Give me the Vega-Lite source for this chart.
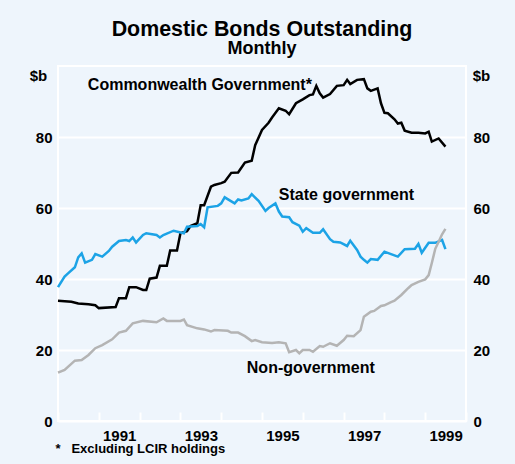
{
  "$schema": "https://vega.github.io/schema/vega-lite/v6.json",
  "width": 408,
  "height": 355,
  "autosize": {"type": "none"},
  "padding": {"left": 58, "top": 66, "right": 49, "bottom": 43},
  "background": "#eef5fc",
  "title": {
    "text": "Domestic Bonds Outstanding",
    "subtitle": "Monthly",
    "font": "Liberation Sans",
    "subtitleFont": "Liberation Sans",
    "fontSize": 21.4,
    "subtitleFontSize": 18,
    "fontWeight": "bold",
    "subtitleFontWeight": "bold",
    "color": "black",
    "subtitleColor": "black",
    "anchor": "middle",
    "offset": 8,
    "subtitlePadding": 0
  },
  "config": {
    "view": {"fill": "#eef5fc", "stroke": "white", "strokeWidth": 2},
    "font": "Liberation Sans",
    "axis": {
      "labelFont": "Liberation Sans",
      "titleFont": "Liberation Sans",
      "labelFontWeight": "bold",
      "titleFontWeight": "bold",
      "labelColor": "black",
      "titleColor": "black",
      "labelFontSize": 15,
      "titleFontSize": 15
    }
  },
  "data": {
    "values": [
      {"date": "1990-01-01", "series": "Commonwealth Government", "value": 33.9},
      {"date": "1990-05-01", "series": "Commonwealth Government", "value": 33.6},
      {"date": "1990-07-01", "series": "Commonwealth Government", "value": 33.1},
      {"date": "1990-10-01", "series": "Commonwealth Government", "value": 32.9},
      {"date": "1990-12-01", "series": "Commonwealth Government", "value": 32.6},
      {"date": "1991-01-01", "series": "Commonwealth Government", "value": 31.8},
      {"date": "1991-06-01", "series": "Commonwealth Government", "value": 32.1},
      {"date": "1991-07-01", "series": "Commonwealth Government", "value": 34.6},
      {"date": "1991-09-01", "series": "Commonwealth Government", "value": 34.6},
      {"date": "1991-10-01", "series": "Commonwealth Government", "value": 37.7},
      {"date": "1991-12-01", "series": "Commonwealth Government", "value": 37.7},
      {"date": "1992-02-01", "series": "Commonwealth Government", "value": 36.9},
      {"date": "1992-03-01", "series": "Commonwealth Government", "value": 36.9},
      {"date": "1992-04-01", "series": "Commonwealth Government", "value": 40.1},
      {"date": "1992-06-01", "series": "Commonwealth Government", "value": 40.4},
      {"date": "1992-07-01", "series": "Commonwealth Government", "value": 43.7},
      {"date": "1992-09-01", "series": "Commonwealth Government", "value": 43.7},
      {"date": "1992-10-01", "series": "Commonwealth Government", "value": 48.0},
      {"date": "1992-12-01", "series": "Commonwealth Government", "value": 48.0},
      {"date": "1993-01-01", "series": "Commonwealth Government", "value": 52.9},
      {"date": "1993-03-01", "series": "Commonwealth Government", "value": 53.5},
      {"date": "1993-04-01", "series": "Commonwealth Government", "value": 54.9},
      {"date": "1993-06-01", "series": "Commonwealth Government", "value": 55.7},
      {"date": "1993-07-01", "series": "Commonwealth Government", "value": 60.8},
      {"date": "1993-08-01", "series": "Commonwealth Government", "value": 60.8},
      {"date": "1993-10-01", "series": "Commonwealth Government", "value": 66.0},
      {"date": "1993-11-01", "series": "Commonwealth Government", "value": 66.5},
      {"date": "1994-01-01", "series": "Commonwealth Government", "value": 67.0},
      {"date": "1994-02-01", "series": "Commonwealth Government", "value": 67.4},
      {"date": "1994-04-01", "series": "Commonwealth Government", "value": 69.9},
      {"date": "1994-06-01", "series": "Commonwealth Government", "value": 70.0},
      {"date": "1994-08-01", "series": "Commonwealth Government", "value": 72.8},
      {"date": "1994-10-01", "series": "Commonwealth Government", "value": 73.3},
      {"date": "1994-11-01", "series": "Commonwealth Government", "value": 77.7},
      {"date": "1995-01-01", "series": "Commonwealth Government", "value": 82.0},
      {"date": "1995-03-01", "series": "Commonwealth Government", "value": 84.0},
      {"date": "1995-04-01", "series": "Commonwealth Government", "value": 85.5},
      {"date": "1995-06-01", "series": "Commonwealth Government", "value": 88.1},
      {"date": "1995-08-01", "series": "Commonwealth Government", "value": 87.4},
      {"date": "1995-09-01", "series": "Commonwealth Government", "value": 86.4},
      {"date": "1995-11-01", "series": "Commonwealth Government", "value": 89.5},
      {"date": "1996-01-01", "series": "Commonwealth Government", "value": 90.6},
      {"date": "1996-03-01", "series": "Commonwealth Government", "value": 91.8},
      {"date": "1996-04-01", "series": "Commonwealth Government", "value": 92.0},
      {"date": "1996-05-01", "series": "Commonwealth Government", "value": 94.4},
      {"date": "1996-06-01", "series": "Commonwealth Government", "value": 92.3},
      {"date": "1996-07-01", "series": "Commonwealth Government", "value": 91.1},
      {"date": "1996-09-01", "series": "Commonwealth Government", "value": 92.1},
      {"date": "1996-11-01", "series": "Commonwealth Government", "value": 94.4},
      {"date": "1997-01-01", "series": "Commonwealth Government", "value": 94.6},
      {"date": "1997-02-01", "series": "Commonwealth Government", "value": 96.1},
      {"date": "1997-03-01", "series": "Commonwealth Government", "value": 94.9},
      {"date": "1997-05-01", "series": "Commonwealth Government", "value": 96.1},
      {"date": "1997-07-01", "series": "Commonwealth Government", "value": 96.3},
      {"date": "1997-08-01", "series": "Commonwealth Government", "value": 93.7},
      {"date": "1997-09-01", "series": "Commonwealth Government", "value": 93.0},
      {"date": "1997-11-01", "series": "Commonwealth Government", "value": 93.7},
      {"date": "1997-12-01", "series": "Commonwealth Government", "value": 89.5},
      {"date": "1998-01-01", "series": "Commonwealth Government", "value": 86.8},
      {"date": "1998-02-01", "series": "Commonwealth Government", "value": 86.7},
      {"date": "1998-04-01", "series": "Commonwealth Government", "value": 85.0},
      {"date": "1998-05-01", "series": "Commonwealth Government", "value": 83.8},
      {"date": "1998-06-01", "series": "Commonwealth Government", "value": 84.0},
      {"date": "1998-07-01", "series": "Commonwealth Government", "value": 81.8},
      {"date": "1998-09-01", "series": "Commonwealth Government", "value": 81.2},
      {"date": "1998-11-01", "series": "Commonwealth Government", "value": 81.2},
      {"date": "1999-01-01", "series": "Commonwealth Government", "value": 81.0},
      {"date": "1999-02-01", "series": "Commonwealth Government", "value": 81.5},
      {"date": "1999-03-01", "series": "Commonwealth Government", "value": 78.7},
      {"date": "1999-05-01", "series": "Commonwealth Government", "value": 79.6},
      {"date": "1999-07-01", "series": "Commonwealth Government", "value": 77.3},

      {"date": "1990-01-01", "series": "State government", "value": 37.7},
      {"date": "1990-03-01", "series": "State government", "value": 40.7},
      {"date": "1990-04-01", "series": "State government", "value": 41.6},
      {"date": "1990-06-01", "series": "State government", "value": 43.3},
      {"date": "1990-07-01", "series": "State government", "value": 46.1},
      {"date": "1990-08-01", "series": "State government", "value": 47.2},
      {"date": "1990-09-01", "series": "State government", "value": 44.6},
      {"date": "1990-11-01", "series": "State government", "value": 45.4},
      {"date": "1990-12-01", "series": "State government", "value": 47.0},
      {"date": "1991-02-01", "series": "State government", "value": 46.3},
      {"date": "1991-04-01", "series": "State government", "value": 47.9},
      {"date": "1991-05-01", "series": "State government", "value": 49.1},
      {"date": "1991-07-01", "series": "State government", "value": 50.7},
      {"date": "1991-09-01", "series": "State government", "value": 51.0},
      {"date": "1991-10-01", "series": "State government", "value": 50.7},
      {"date": "1991-11-01", "series": "State government", "value": 51.7},
      {"date": "1991-12-01", "series": "State government", "value": 50.3},
      {"date": "1992-02-01", "series": "State government", "value": 52.4},
      {"date": "1992-03-01", "series": "State government", "value": 52.9},
      {"date": "1992-06-01", "series": "State government", "value": 52.4},
      {"date": "1992-07-01", "series": "State government", "value": 51.7},
      {"date": "1992-08-01", "series": "State government", "value": 52.4},
      {"date": "1992-11-01", "series": "State government", "value": 53.6},
      {"date": "1993-02-01", "series": "State government", "value": 52.9},
      {"date": "1993-03-01", "series": "State government", "value": 54.7},
      {"date": "1993-06-01", "series": "State government", "value": 54.9},
      {"date": "1993-07-01", "series": "State government", "value": 55.5},
      {"date": "1993-08-01", "series": "State government", "value": 54.6},
      {"date": "1993-09-01", "series": "State government", "value": 60.2},
      {"date": "1993-12-01", "series": "State government", "value": 60.6},
      {"date": "1994-01-01", "series": "State government", "value": 61.3},
      {"date": "1994-02-01", "series": "State government", "value": 63.0},
      {"date": "1994-05-01", "series": "State government", "value": 61.3},
      {"date": "1994-06-01", "series": "State government", "value": 62.4},
      {"date": "1994-07-01", "series": "State government", "value": 62.1},
      {"date": "1994-09-01", "series": "State government", "value": 62.7},
      {"date": "1994-10-01", "series": "State government", "value": 63.9},
      {"date": "1994-12-01", "series": "State government", "value": 62.0},
      {"date": "1995-02-01", "series": "State government", "value": 59.2},
      {"date": "1995-03-01", "series": "State government", "value": 60.0},
      {"date": "1995-05-01", "series": "State government", "value": 61.3},
      {"date": "1995-06-01", "series": "State government", "value": 59.0},
      {"date": "1995-07-01", "series": "State government", "value": 57.6},
      {"date": "1995-09-01", "series": "State government", "value": 57.4},
      {"date": "1995-10-01", "series": "State government", "value": 56.0},
      {"date": "1995-12-01", "series": "State government", "value": 55.0},
      {"date": "1996-01-01", "series": "State government", "value": 53.3},
      {"date": "1996-02-01", "series": "State government", "value": 54.3},
      {"date": "1996-04-01", "series": "State government", "value": 53.0},
      {"date": "1996-06-01", "series": "State government", "value": 53.0},
      {"date": "1996-07-01", "series": "State government", "value": 54.0},
      {"date": "1996-09-01", "series": "State government", "value": 51.2},
      {"date": "1996-10-01", "series": "State government", "value": 50.5},
      {"date": "1996-12-01", "series": "State government", "value": 50.3},
      {"date": "1997-02-01", "series": "State government", "value": 49.3},
      {"date": "1997-03-01", "series": "State government", "value": 50.8},
      {"date": "1997-05-01", "series": "State government", "value": 48.2},
      {"date": "1997-06-01", "series": "State government", "value": 46.3},
      {"date": "1997-07-01", "series": "State government", "value": 45.4},
      {"date": "1997-08-01", "series": "State government", "value": 44.6},
      {"date": "1997-09-01", "series": "State government", "value": 45.6},
      {"date": "1997-11-01", "series": "State government", "value": 45.4},
      {"date": "1998-01-01", "series": "State government", "value": 47.7},
      {"date": "1998-03-01", "series": "State government", "value": 47.0},
      {"date": "1998-05-01", "series": "State government", "value": 46.3},
      {"date": "1998-07-01", "series": "State government", "value": 48.4},
      {"date": "1998-10-01", "series": "State government", "value": 48.5},
      {"date": "1998-11-01", "series": "State government", "value": 49.9},
      {"date": "1998-12-01", "series": "State government", "value": 47.4},
      {"date": "1999-02-01", "series": "State government", "value": 50.2},
      {"date": "1999-04-01", "series": "State government", "value": 50.2},
      {"date": "1999-05-01", "series": "State government", "value": 50.6},
      {"date": "1999-06-01", "series": "State government", "value": 51.0},
      {"date": "1999-07-01", "series": "State government", "value": 48.4},

      {"date": "1990-01-01", "series": "Non-government", "value": 13.6},
      {"date": "1990-03-01", "series": "Non-government", "value": 14.4},
      {"date": "1990-06-01", "series": "Non-government", "value": 17.0},
      {"date": "1990-08-01", "series": "Non-government", "value": 17.2},
      {"date": "1990-10-01", "series": "Non-government", "value": 18.6},
      {"date": "1990-12-01", "series": "Non-government", "value": 20.5},
      {"date": "1991-02-01", "series": "Non-government", "value": 21.4},
      {"date": "1991-05-01", "series": "Non-government", "value": 23.0},
      {"date": "1991-07-01", "series": "Non-government", "value": 24.9},
      {"date": "1991-09-01", "series": "Non-government", "value": 25.4},
      {"date": "1991-11-01", "series": "Non-government", "value": 27.5},
      {"date": "1992-02-01", "series": "Non-government", "value": 28.2},
      {"date": "1992-06-01", "series": "Non-government", "value": 27.8},
      {"date": "1992-08-01", "series": "Non-government", "value": 28.9},
      {"date": "1992-09-01", "series": "Non-government", "value": 28.2},
      {"date": "1993-01-01", "series": "Non-government", "value": 28.2},
      {"date": "1993-02-01", "series": "Non-government", "value": 28.6},
      {"date": "1993-03-01", "series": "Non-government", "value": 27.0},
      {"date": "1993-06-01", "series": "Non-government", "value": 26.1},
      {"date": "1993-08-01", "series": "Non-government", "value": 25.8},
      {"date": "1993-10-01", "series": "Non-government", "value": 25.2},
      {"date": "1993-11-01", "series": "Non-government", "value": 25.6},
      {"date": "1994-03-01", "series": "Non-government", "value": 25.4},
      {"date": "1994-04-01", "series": "Non-government", "value": 24.9},
      {"date": "1994-06-01", "series": "Non-government", "value": 24.9},
      {"date": "1994-08-01", "series": "Non-government", "value": 23.9},
      {"date": "1994-10-01", "series": "Non-government", "value": 22.5},
      {"date": "1994-11-01", "series": "Non-government", "value": 22.8},
      {"date": "1995-01-01", "series": "Non-government", "value": 22.2},
      {"date": "1995-04-01", "series": "Non-government", "value": 22.0},
      {"date": "1995-06-01", "series": "Non-government", "value": 22.2},
      {"date": "1995-08-01", "series": "Non-government", "value": 21.9},
      {"date": "1995-09-01", "series": "Non-government", "value": 19.4},
      {"date": "1995-11-01", "series": "Non-government", "value": 20.0},
      {"date": "1995-12-01", "series": "Non-government", "value": 19.1},
      {"date": "1996-01-01", "series": "Non-government", "value": 20.0},
      {"date": "1996-03-01", "series": "Non-government", "value": 20.0},
      {"date": "1996-04-01", "series": "Non-government", "value": 19.5},
      {"date": "1996-06-01", "series": "Non-government", "value": 21.1},
      {"date": "1996-07-01", "series": "Non-government", "value": 20.9},
      {"date": "1996-09-01", "series": "Non-government", "value": 21.9},
      {"date": "1996-11-01", "series": "Non-government", "value": 21.2},
      {"date": "1997-01-01", "series": "Non-government", "value": 22.8},
      {"date": "1997-02-01", "series": "Non-government", "value": 24.0},
      {"date": "1997-04-01", "series": "Non-government", "value": 23.9},
      {"date": "1997-06-01", "series": "Non-government", "value": 25.6},
      {"date": "1997-07-01", "series": "Non-government", "value": 29.4},
      {"date": "1997-09-01", "series": "Non-government", "value": 30.8},
      {"date": "1997-10-01", "series": "Non-government", "value": 31.0},
      {"date": "1997-12-01", "series": "Non-government", "value": 32.4},
      {"date": "1998-01-01", "series": "Non-government", "value": 32.6},
      {"date": "1998-03-01", "series": "Non-government", "value": 33.5},
      {"date": "1998-04-01", "series": "Non-government", "value": 33.9},
      {"date": "1998-06-01", "series": "Non-government", "value": 35.5},
      {"date": "1998-08-01", "series": "Non-government", "value": 37.4},
      {"date": "1998-09-01", "series": "Non-government", "value": 38.3},
      {"date": "1998-11-01", "series": "Non-government", "value": 39.2},
      {"date": "1999-01-01", "series": "Non-government", "value": 39.9},
      {"date": "1999-02-01", "series": "Non-government", "value": 41.1},
      {"date": "1999-03-01", "series": "Non-government", "value": 44.5},
      {"date": "1999-04-01", "series": "Non-government", "value": 48.5},
      {"date": "1999-05-01", "series": "Non-government", "value": 50.5},
      {"date": "1999-06-01", "series": "Non-government", "value": 52.6},
      {"date": "1999-07-01", "series": "Non-government", "value": 54.1}
    ]
  },
  "layer": [
    {
      "mark": {"type": "line", "strokeWidth": 2.5, "strokeJoin": "miter"},
      "encoding": {
        "x": {
          "field": "date",
          "type": "temporal",
          "scale": {
            "type": "utc",
            "domain": [
              {"year": 1990, "month": 1, "date": 1, "utc": true},
              {"year": 2000, "month": 1, "date": 1, "utc": true}
            ]
          },
          "axis": {
            "orient": "bottom",
            "values": [
              {"year": 1990, "utc": true}, {"year": 1991, "utc": true},
              {"year": 1992, "utc": true}, {"year": 1993, "utc": true},
              {"year": 1994, "utc": true}, {"year": 1995, "utc": true},
              {"year": 1996, "utc": true}, {"year": 1997, "utc": true},
              {"year": 1998, "utc": true}, {"year": 1999, "utc": true},
              {"year": 2000, "utc": true}
            ],
            "labelExpr": "utcyear(datum.value) % 2 == 1 ? utcFormat(datum.value, '%Y') : ''",
            "labelOffset": 20.4,
            "labelFlush": false,
            "labelOverlap": false,
            "labelBound": false,
            "labelPadding": 16,
            "tickSize": -9,
            "tickColor": "white",
            "tickWidth": 2,
            "domain": false,
            "grid": false,
            "title": "*\u00a0\u00a0\u00a0Excluding LCIR holdings",
            "titleFontSize": 13,
            "titleAlign": "left",
            "titleAnchor": "start",
            "titleBaseline": "middle",
            "titleX": -3,
            "titleY": 27
          }
        },
        "y": {
          "field": "value",
          "type": "quantitative",
          "scale": {"domain": [0, 100], "nice": false, "zero": false},
          "axis": {
            "orient": "left",
            "values": [0, 20, 40, 60, 80],
            "grid": true,
            "gridColor": "white",
            "gridWidth": 2,
            "ticks": false,
            "domain": false,
            "labelPadding": 6,
            "title": "$b",
            "titleAngle": 0,
            "titleAlign": "center",
            "titleBaseline": "middle",
            "titleX": -20,
            "titleY": 9
          }
        },
        "color": {
          "field": "series",
          "type": "nominal",
          "scale": {
            "domain": ["Non-government", "State government", "Commonwealth Government"],
            "range": ["#b4b4b4", "#1ca3e6", "#000000"]
          },
          "legend": null
        }
      }
    },
    {
      "mark": {"type": "line", "opacity": 0},
      "encoding": {
        "x": {"field": "date", "type": "temporal", "axis": null},
        "y": {
          "field": "value",
          "type": "quantitative",
          "axis": {
            "orient": "right",
            "values": [0, 20, 40, 60, 80],
            "grid": false,
            "ticks": false,
            "domain": false,
            "labelPadding": 7,
            "title": "$b",
            "titleAngle": 0,
            "titleAlign": "center",
            "titleBaseline": "middle",
            "titleX": 15,
            "titleY": 9
          }
        },
        "detail": {"field": "series", "type": "nominal"}
      }
    },
    {
      "data": {"values": [{"label": "Commonwealth Government*"}]},
      "mark": {"type": "text", "align": "left", "baseline": "middle", "fontSize": 16, "fontWeight": "bold", "font": "Liberation Sans", "color": "black"},
      "encoding": {
        "x": {"datum": {"year": 1990, "month": 9, "date": 25, "utc": true}, "type": "temporal", "axis": null},
        "y": {"datum": 94.6, "type": "quantitative", "axis": null},
        "text": {"field": "label"}
      }
    },
    {
      "data": {"values": [{"label": "State government"}]},
      "mark": {"type": "text", "align": "left", "baseline": "middle", "fontSize": 16, "fontWeight": "bold", "font": "Liberation Sans", "color": "black"},
      "encoding": {
        "x": {"datum": {"year": 1995, "month": 6, "date": 1, "utc": true}, "type": "temporal", "axis": null},
        "y": {"datum": 63.7, "type": "quantitative", "axis": null},
        "text": {"field": "label"}
      }
    },
    {
      "data": {"values": [{"label": "Non-government"}]},
      "mark": {"type": "text", "align": "left", "baseline": "middle", "fontSize": 16, "fontWeight": "bold", "font": "Liberation Sans", "color": "black"},
      "encoding": {
        "x": {"datum": {"year": 1994, "month": 8, "date": 18, "utc": true}, "type": "temporal", "axis": null},
        "y": {"datum": 14.9, "type": "quantitative", "axis": null},
        "text": {"field": "label"}
      }
    }
  ],
  "resolve": {"scale": {"x": "shared", "y": "shared"}, "axis": {"x": "independent", "y": "independent"}}
}
